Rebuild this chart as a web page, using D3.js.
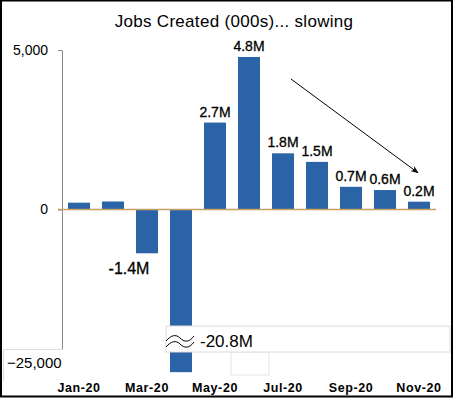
<!DOCTYPE html>
<html>
<head>
<meta charset="utf-8">
<script src="https://cdn.jsdelivr.net/npm/d3@7"></script>
<style>
  body { margin: 0; background: #fff; }
  svg text { font-family: "Liberation Sans", Arial, sans-serif; fill: #000; }
</style>
</head>
<body>
<div id="chart"></div>
<script>
// monthly jobs created, thousands
let months = ["Jan-20","Feb-20","Mar-20","Apr-20","May-20","Jun-20","Jul-20","Aug-20","Sep-20","Oct-20","Nov-20"];
let jobs = [214, 251, -1373, -20787, 2725, 4781, 1761, 1493, 711, 610, 245];
let yTicks = [5000, 0];
let yBreakTick = -25000;
let title = "Jobs Created (000s)... slowing";

var width = 455, height = 399;

var svg = d3.select("#chart").append("svg")
  .attr("width", width)
  .attr("height", height);

// outer frame
svg.append("rect")
  .attr("x", 1).attr("y", 0.5)
  .attr("width", 451).attr("height", 396)
  .attr("fill", "#fff")
  .attr("stroke", "#000")
  .attr("stroke-width", 2);

var x = d3.scaleBand()
  .domain(months)
  .range([62, 436])
  .paddingInner(12 / 34)
  .paddingOuter(6 / 34);

// broken axis: everything below -5,000 is squeezed into the last few px
var y = d3.scaleLinear()
  .domain([yBreakTick, -5000, 5000])
  .range([373, 369, 50]);

// title
svg.append("text")
  .attr("x", 234).attr("y", 27)
  .attr("text-anchor", "middle")
  .style("font-size", "17px")
  .style("letter-spacing", "0.3px")
  .text(title);

// y axis
var yAxis = svg.append("g")
  .attr("transform", "translate(62,0)")
  .call(d3.axisLeft(y).tickValues(yTicks).tickSize(4).tickSizeOuter(0).tickPadding(10).tickFormat(d3.format(",")));
yAxis.select(".domain").attr("stroke", "#888");
yAxis.selectAll(".tick line").attr("stroke", "#888");
yAxis.selectAll(".tick text")
  .style("font-family", "Liberation Sans, Arial, sans-serif")
  .style("font-size", "14px")
  .attr("fill", "#000");

// bars
svg.append("g")
  .selectAll("rect")
  .data(jobs)
  .enter()
  .append("rect")
    .attr("x", (d, i) => x(months[i]))
    .attr("width", x.bandwidth())
    .attr("y", d => y(Math.max(0, d)))
    .attr("height", d => Math.abs(y(d) - y(0)))
    .attr("fill", "#2a64a6");

// zero line
svg.append("line")
  .attr("x1", 58).attr("x2", 436)
  .attr("y1", y(0)).attr("y2", y(0))
  .attr("stroke", "#c8a064")
  .attr("stroke-width", 1.5);

// labels on positive bars (Jan/Feb left unlabelled like the original)
var fmt = d => (d / 1000).toFixed(1) + "M";
svg.append("g")
  .selectAll("text")
  .data(jobs.map((d, i) => ({ m: months[i], v: d, i: i })).filter(d => d.i > 3))
  .enter()
  .append("text")
    .attr("x", d => x(d.m) + x.bandwidth() / 2)
    .attr("y", d => y(d.v) - 6)
    .attr("text-anchor", "middle")
    .style("font-size", "14px")
    .style("stroke", "#000")
    .style("stroke-width", 0.3)
    .text(d => fmt(d.v));

// Mar label sits below and left of its bar
svg.append("text")
  .attr("x", x("Mar-20") + x.bandwidth() / 2 - 18)
  .attr("y", y(jobs[2]) + 21)
  .attr("text-anchor", "middle")
  .style("font-size", "16px")
  .style("stroke", "#000")
  .style("stroke-width", 0.3)
  .text(fmt(jobs[2]));

// break box on the Apr bar
svg.append("rect")
  .attr("x", 231).attr("y", 352).attr("width", 38).attr("height", 23)
  .attr("fill", "#fff").attr("stroke", "#e4e4e4");
svg.append("rect")
  .attr("x", 166).attr("y", 326).attr("width", 284).attr("height", 26)
  .attr("fill", "#fff").attr("stroke", "#dcdcdc");
[0, 6].forEach(off => {
  svg.append("path")
    .attr("d", `M166,${341 + off} C171,${335 + off} 176,${334 + off} 180,${338 + off} S189,${343 + off} 194,${336 + off}`)
    .attr("fill", "none")
    .attr("stroke", "#000")
    .attr("stroke-width", 1);
});
svg.append("text")
  .attr("x", 200).attr("y", 347)
  .style("font-size", "17px")
  .text(fmt(jobs[3]));

// -25,000 label box covering the bottom of the axis
svg.append("rect")
  .attr("x", 3).attr("y", 349).attr("width", 62).attr("height", 32)
  .attr("fill", "#fff");
svg.append("path")
  .attr("d", "M3.5,381 V349.5 H63")
  .attr("fill", "none")
  .attr("stroke", "#ddd");
svg.append("text")
  .attr("x", 7).attr("y", y(yBreakTick) - 5)
  .style("font-size", "15px")
  .text(d3.format(",")(yBreakTick));

// x labels, every other month
svg.append("g")
  .selectAll("text")
  .data(months.filter((d, i) => i % 2 == 0))
  .enter()
  .append("text")
    .attr("x", d => x(d) + x.bandwidth() / 2)
    .attr("y", 392)
    .attr("text-anchor", "middle")
    .style("font-size", "12.5px")
    .style("font-weight", "bold")
    .style("letter-spacing", "0.6px")
    .text(d => d);

// trend arrow
svg.append("defs").append("marker")
  .attr("id", "arrow")
  .attr("viewBox", "0 0 10 10")
  .attr("refX", 9).attr("refY", 5)
  .attr("markerWidth", 8).attr("markerHeight", 8)
  .attr("orient", "auto")
  .append("path")
    .attr("d", "M0,1 L10,5 L0,9 L3,5 Z")
    .attr("fill", "#000");

svg.append("line")
  .attr("x1", x("Jul-20") + x.bandwidth() / 2 + 8)
  .attr("y1", y(4090))
  .attr("x2", x("Nov-20") + x.bandwidth() / 2 - 1)
  .attr("y2", y(1150))
  .attr("stroke", "#000")
  .attr("stroke-width", 1)
  .attr("marker-end", "url(#arrow)");
</script>
</body>
</html>
